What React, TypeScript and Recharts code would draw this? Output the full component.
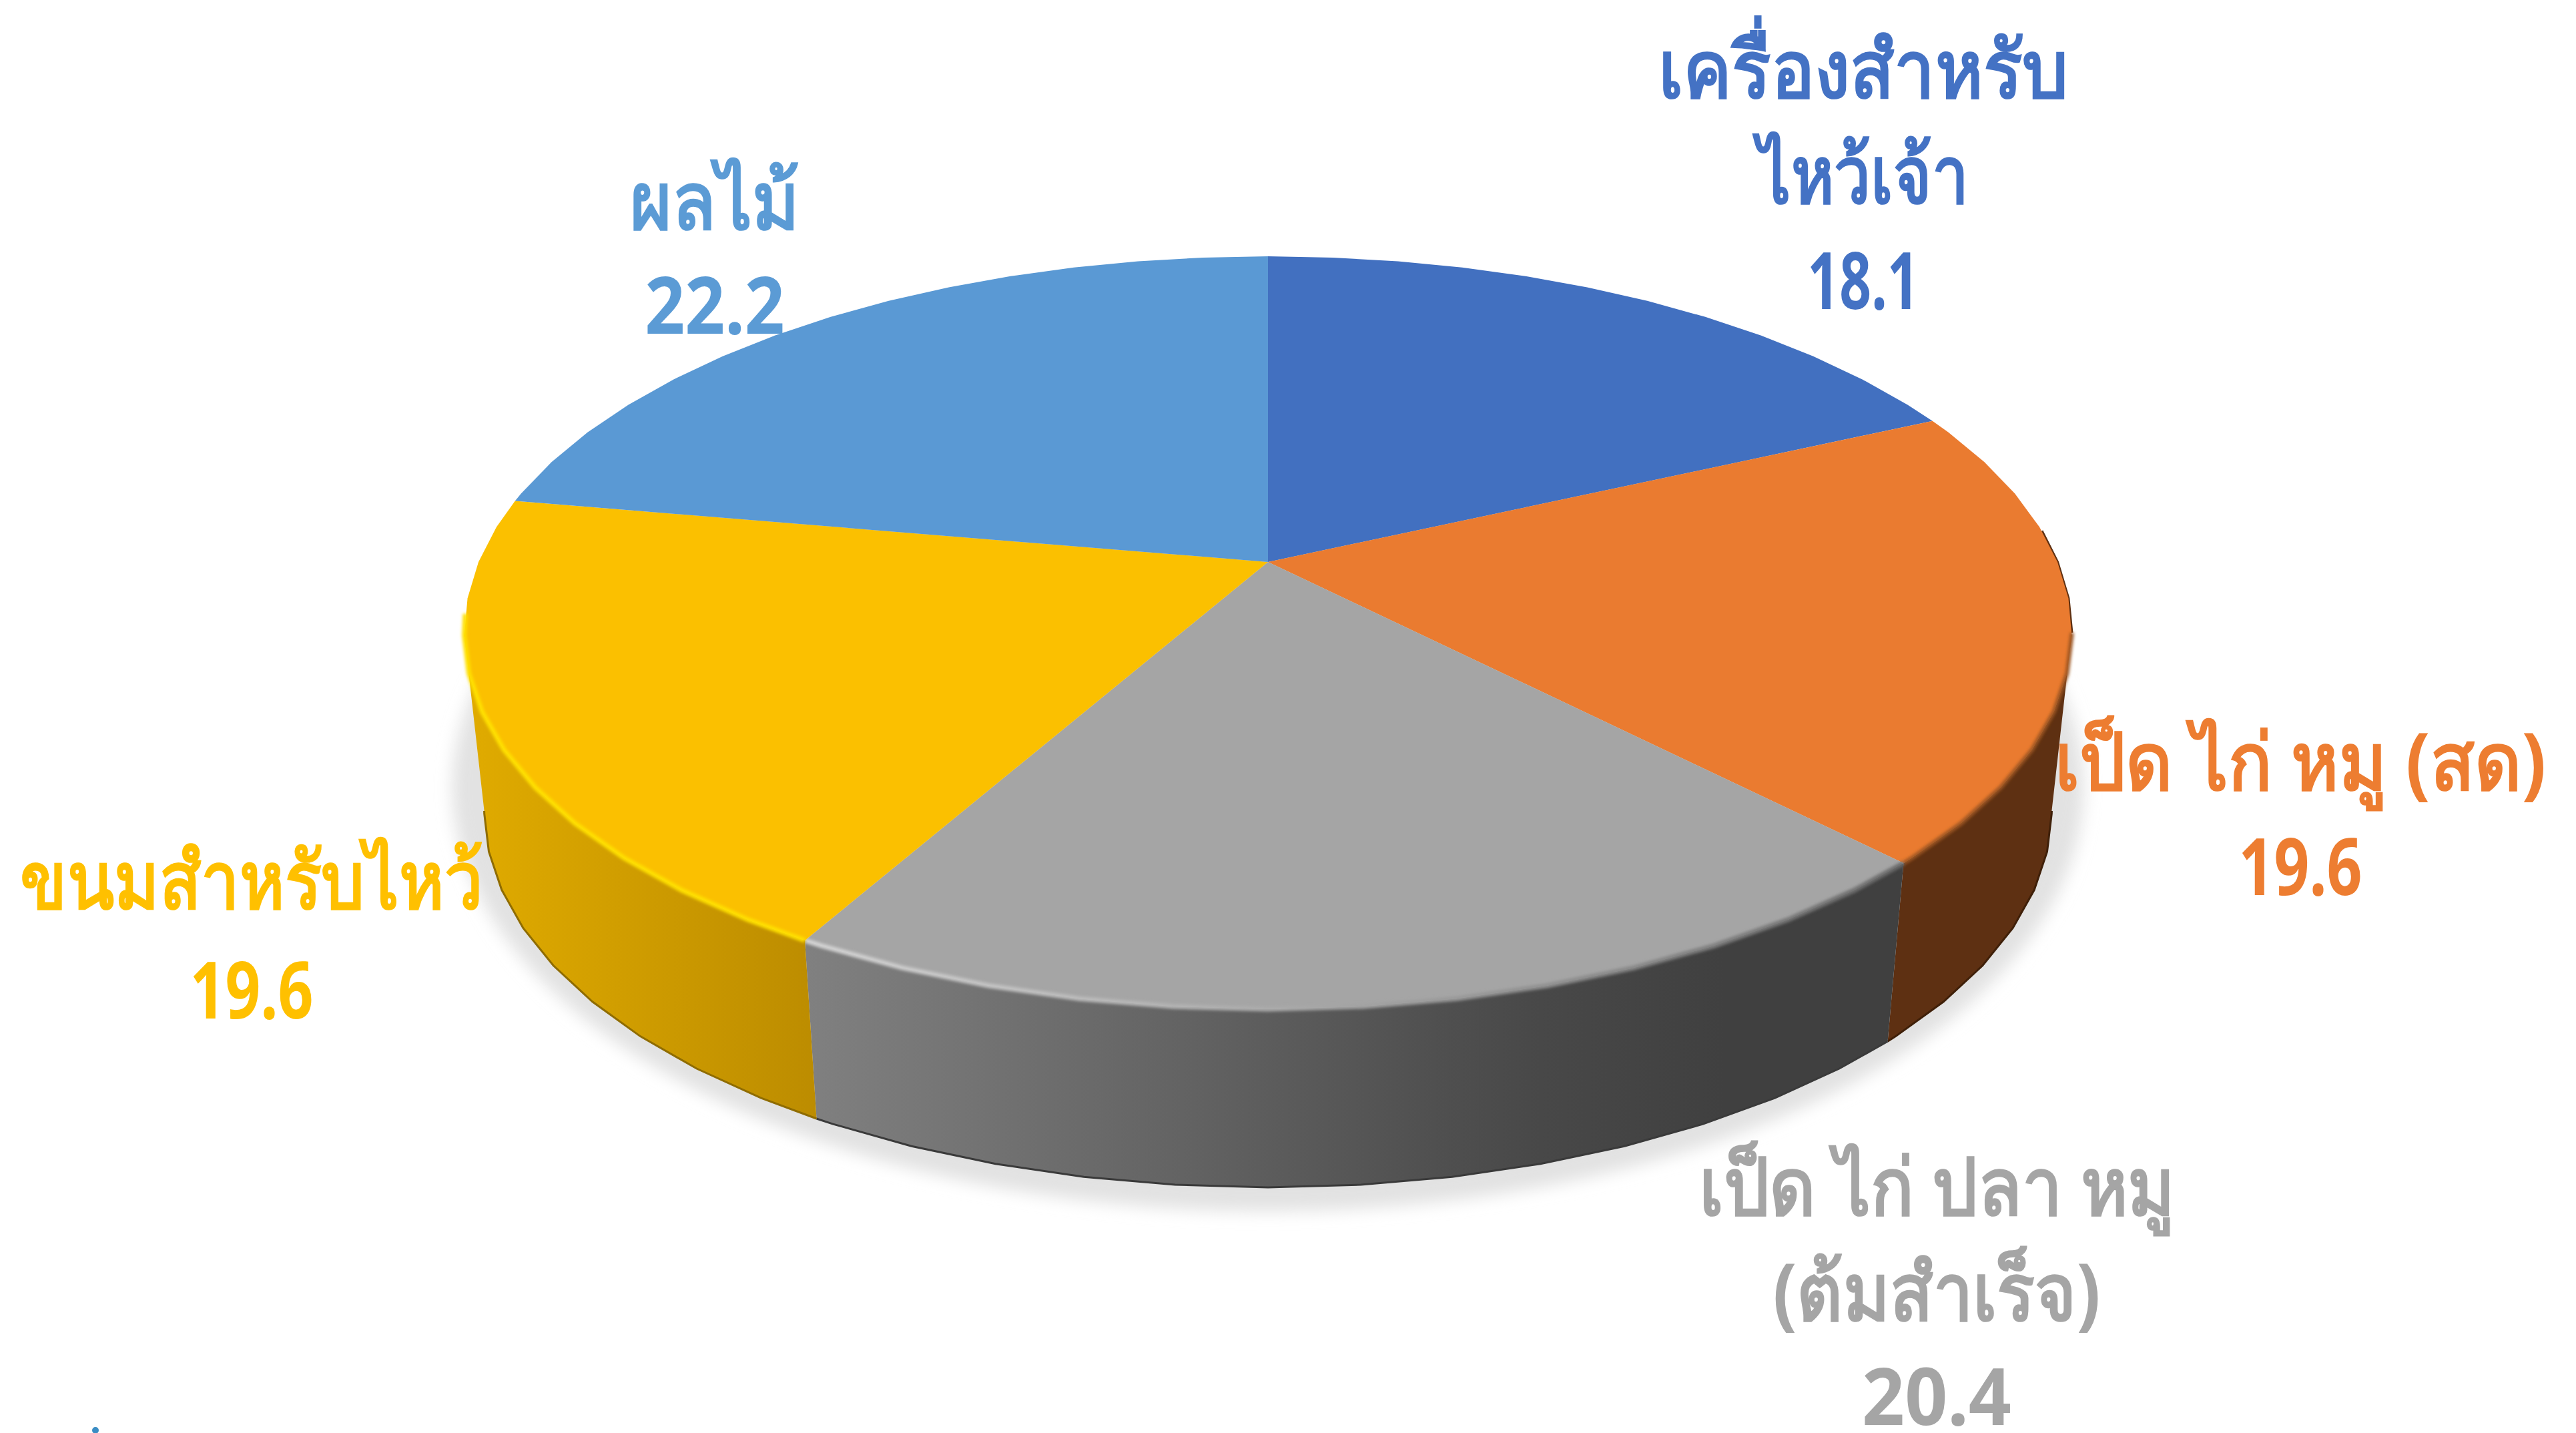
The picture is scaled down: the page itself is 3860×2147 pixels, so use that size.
import { PieChart, Pie } from "recharts";

const categories = [
  "เครื่องสำหรับไหว้เจ้า",
  "เป็ด ไก่ หมู (สด)",
  "เป็ด ไก่ ปลา หมู (ต้มสำเร็จ)",
  "ขนมสำหรับไหว้",
  "ผลไม้",
];
const values = [18.1, 19.6, 20.4, 19.6, 22.2];
const labelLines = [
  ["เครื่องสำหรับ", "ไหว้เจ้า"],
  ["เป็ด ไก่ หมู (สด)"],
  ["เป็ด ไก่ ปลา หมู", "(ต้มสำเร็จ)"],
  ["ขนมสำหรับไหว้"],
  ["ผลไม้"],
];
const colors = ["#4472C4", "#ED7D31", "#A5A5A5", "#FFC000", "#5B9BD5"];
const topColors = ["#4270C0", "#EA7B30", "#A5A5A5", "#FBC000", "#5A99D4"];

const data = categories.map((name, i) => ({ name, id: i, value: values[i], fill: topColors[i] }));

const W = 3860;
const H = 2147;
const FONT = "'Noto Sans', 'DejaVu Sans', sans-serif";

// perspective of the tilted disc
const CX = 1900;
const CY = 842;
const R = 1183;
const S = 544;
const K = 0.188;
const DROP = 267;
const SHRINK = 0.975;
const SILHOUETTE = 90 + (Math.asin(K) * 180) / Math.PI;

// per slice layout: label centre x, baselines, horizontal squeeze of each line
const labelX = [2792, 3447, 2902, 377, 1071];
const labelY = [
  [146, 304, 463],
  [1183, 1341],
  [1820, 1978, 2135],
  [1361, 1526],
  [343, 500],
];
const labelSqueeze = [
  [0.925, 0.83, 0.71],
  [0.92, 0.785],
  [0.91, 0.9, 0.95],
  [0.87, 0.785],
  [0.91, 0.89],
];

const wallFill = ["none", "#5E3012", "url(#grayWall)", "url(#yellowWall)", "none"];
const wallEdge = ["none", "#3f2009", "#3a3a3a", "#8f6c00", "none"];
const rimGlow = ["none", "#9c5523", "url(#grayRim)", "#FFE000", "none"];

// theta: degrees clockwise from the top of the pie
const top = (theta: number) => {
  const a = (theta * Math.PI) / 180;
  const u = Math.sin(a);
  const v = -Math.cos(a);
  const w = 1 - K * v;
  return [CX + (R * u) / w, CY + (S * v) / w];
};
const bottom = (theta: number) => {
  const [x, y] = top(theta);
  return [CX + (x - CX) * SHRINK, y + DROP];
};

const arc = (from: number, to: number, fn: (t: number) => number[]) => {
  const pts: number[][] = [];
  const step = 5.625;
  pts.push(fn(from));
  let t = Math.ceil(from / step) * step;
  while (t < to) {
    if (t > from) pts.push(fn(t));
    t += step;
  }
  pts.push(fn(to));
  return pts;
};
const toD = (pts: number[][]) =>
  pts.map((p, i) => `${i ? "L" : "M"}${p[0].toFixed(1)} ${p[1].toFixed(1)}`).join(" ");

const Slice3D = (props: any) => {
  const id = props.payload?.id ?? props.id;
  const from = 90 - props.startAngle;
  const to = 90 - props.endAngle;
  const wallFrom = Math.max(from, SILHOUETTE);
  const wallTo = Math.min(to, 360 - SILHOUETTE);
  const hasWall = wallFrom < wallTo && wallFill[id] !== "none";
  const rim = hasWall ? arc(wallFrom, wallTo, top) : [];
  const low = hasWall ? arc(wallFrom, wallTo, bottom) : [];
  const topD = `M${CX} ${CY} ` + toD(arc(from, to, top)).replace("M", "L") + " Z";
  return (
    <g>
      {hasWall && (
        <>
          <path d={toD(rim) + " " + toD([...low].reverse()).replace("M", "L") + " Z"} fill={wallFill[id]} />
          <path d={toD(low)} fill="none" stroke={wallEdge[id]} strokeWidth={3} />
        </>
      )}
      {id === 1 && <path d={toD(arc(85, SILHOUETTE, top))} fill="none" stroke="#5E3012" strokeWidth={4} />}
      <path d={topD} fill={props.fill} />
      {hasWall && (
        <path
          d={toD(id === 3 ? arc(wallFrom, 262, top) : rim)}
          fill="none"
          stroke={rimGlow[id]}
          strokeWidth={id === 1 ? 6 : 7}
          filter="url(#soft)"
        />
      )}
    </g>
  );
};

const SliceLabel = (props: any) => {
  const id = props.payload?.id ?? props.id;
  const lines = [...labelLines[id], values[id].toFixed(1)];
  return (
    <g>
      {lines.map((line, i) => (
        <text
          key={i}
          transform={`translate(${labelX[id]} ${labelY[id][i]}) scale(${labelSqueeze[id][i]} 1)`}
          textAnchor="middle"
          fill={colors[id]}
          fontFamily={FONT}
          fontSize={118}
          fontWeight={700}
        >
          {line}
        </text>
      ))}
    </g>
  );
};

export default function App() {
  return (
    <div style={{ position: "absolute", left: 0, top: 0, width: W, height: H, background: "#fff" }}>
      <PieChart width={W} height={H} margin={{ top: 0, right: 0, bottom: 0, left: 0 }}>
        <defs>
          <linearGradient id="grayWall" gradientUnits="userSpaceOnUse" x1={1211} y1={0} x2={2827} y2={0}>
            <stop offset="0" stopColor="#808080" />
            <stop offset="0.43" stopColor="#5c5c5c" />
            <stop offset="0.68" stopColor="#484848" />
            <stop offset="0.85" stopColor="#404040" />
            <stop offset="1" stopColor="#404040" />
          </linearGradient>
          <linearGradient id="yellowWall" gradientUnits="userSpaceOnUse" x1={700} y1={0} x2={1228} y2={0}>
            <stop offset="0" stopColor="#e0ab00" />
            <stop offset="1" stopColor="#bc8c00" />
          </linearGradient>
          <linearGradient id="grayRim" gradientUnits="userSpaceOnUse" x1={1211} y1={0} x2={2855} y2={0}>
            <stop offset="0" stopColor="#d4d4d4" />
            <stop offset="0.45" stopColor="#a8a8a8" />
            <stop offset="1" stopColor="#6a6a6a" />
          </linearGradient>
          <filter id="soft" filterUnits="userSpaceOnUse" x={0} y={0} width={W} height={H}>
            <feGaussianBlur stdDeviation={2} />
          </filter>
          <filter id="shadowBlur" filterUnits="userSpaceOnUse" x={0} y={0} width={W} height={H}>
            <feGaussianBlur stdDeviation={12} />
          </filter>
        </defs>
        <ellipse cx={1900} cy={1180} rx={1222} ry={635} fill="#e2e2e2" filter="url(#shadowBlur)" />
        <circle cx={143} cy={2143} r={5} fill="#3b8dc4" />
        <Pie
          data={data}
          dataKey="value"
          nameKey="name"
          cx={CX}
          cy={CY}
          outerRadius={R}
          startAngle={90}
          endAngle={-270}
          stroke="none"
          shape={Slice3D}
          label={SliceLabel}
          labelLine={false}
          isAnimationActive={false}
        />
      </PieChart>
    </div>
  );
}
